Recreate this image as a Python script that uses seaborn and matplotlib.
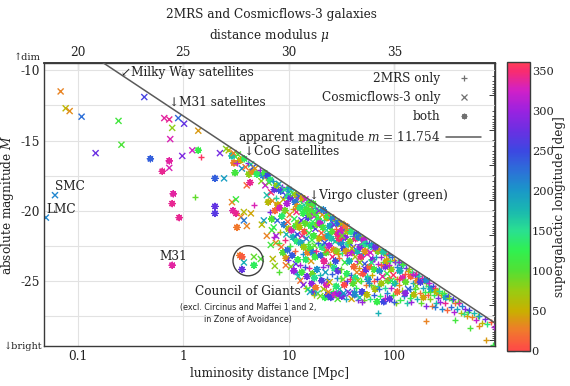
import numpy as np
import pandas as pd
import matplotlib
matplotlib.use("Agg")
import matplotlib.pyplot as plt
import matplotlib.ticker as mticker
from matplotlib.colors import LinearSegmentedColormap, Normalize
from matplotlib.lines import Line2D
import seaborn as sns

# ---------------------------------------------------------------------------
# Galaxy sample: luminosity distance [Mpc], absolute K magnitude,
# supergalactic longitude [deg] and catalogue membership code
# ('+' = 2MRS only, 'x' = Cosmicflows-3 only, 'b' = both)
# ---------------------------------------------------------------------------
dist_mpc = [
    # Local Group and nearby dwarfs
    0.069, 0.077, 0.084, 0.109, 0.061, 0.050, 0.428, 0.244, 0.662, 0.738,
    0.897, 1.02, 0.787, 1.39, 0.754, 0.26, 0.148, 0.489, 0.738, 0.98,
    1.22, 1.39, 1.48, 0.738, 0.634, 2.0, 2.44, 2.23, 0.805, 1.30,
    0.787, 2.0, 2.0, 0.917, 0.787,
    # Local Volume and Council of Giants
    2.55, 3.03, 3.37, 2.9, 3.16, 2.96, 3.16, 3.76, 3.53, 4.38,
    4.68, 5.81, 3.23, 3.76, 4.01, 5.56, 7.22, 6.92, 3.45, 3.6,
    3.76, 4.68, 5.44, 4.68, 3.6, 6.2, 6.76, 7.54, 7.06, 7.38,
    8.05, 9.38, 17.2, 26.6,
    # very luminous distant objects
    70.5, 200, 376, 521, 633, 738, 880, 860,
    # CoG satellites
    2.7, 2.9, 3.0, 3.2, 3.3, 3.5, 3.6, 3.8, 3.9, 4.1, 4.2, 4.4, 4.5, 4.6, 3.1, 4.0, 4.3,
    # bulk of the flux-limited sample
    4.8, 5.0, 5.3, 5.5, 5.7,
    5.9, 6.0, 6.1, 6.2, 6.3, 6.4, 6.5, 6.6, 6.7, 6.8, 6.9, 7.0, 7.1, 7.2, 7.3, 7.4,
    7.5, 7.6, 7.7, 7.8, 7.9, 8.0,
    8.1, 8.2, 8.3, 8.4, 8.5, 8.6, 8.7, 8.8, 8.9, 9.0, 9.1, 9.15, 9.25, 9.35, 9.45,
    9.5, 9.6, 9.7, 9.75, 9.8, 9.85, 9.9, 9.95,
    10.1, 10.2, 10.3, 10.4, 10.5, 10.6, 10.7, 10.8, 10.9, 11.0, 11.1, 11.2, 11.3, 11.4,
    11.5, 11.6, 11.7, 11.8, 11.85, 11.9, 12.0, 12.05, 12.1, 12.2, 12.25, 12.3, 12.35,
    12.5, 12.6, 12.7, 12.8, 12.9, 13.0, 13.1, 13.2, 13.3, 13.4, 13.5, 13.6, 13.7, 13.8,
    13.9, 14.0, 14.1, 14.2, 14.3, 14.4, 14.5, 14.6, 14.7, 14.8, 14.9, 15.0, 15.05, 15.1,
    15.2, 15.25, 15.3,
    15.5, 15.6, 15.7, 15.8, 15.9, 16.0, 16.1, 16.2, 16.3, 16.4, 16.5, 16.6, 16.7, 16.8,
    16.9, 17.0, 17.1, 17.2, 17.3, 17.4, 17.5, 17.6, 17.7, 17.8, 17.9, 18.0, 18.1, 18.2,
    18.4, 18.5, 18.6, 18.8, 18.9, 19.1,
    19.3, 19.5, 19.6, 19.8, 19.9, 20.1, 20.2, 20.4, 20.5, 20.7, 20.8, 21.0, 21.1, 21.3,
    21.4, 21.6, 21.7, 21.9, 22.0, 22.2, 22.3, 22.5, 22.6, 22.8, 22.9, 23.0, 23.1, 23.3,
    23.4, 23.5, 23.6, 23.7, 23.75,
    24.0, 24.2, 24.4, 24.6, 24.8, 25.0, 25.2, 25.4, 25.6, 25.8, 26.0, 26.2, 26.4, 26.6,
    26.8, 27.0, 27.2, 27.4, 27.6, 27.8, 28.0, 28.2, 28.4, 28.6, 28.8, 29.0, 29.1, 29.2,
    29.3, 29.4, 29.5, 29.55,
    29.8, 30.1, 30.4, 30.7, 31.0, 31.3, 31.6, 31.9, 32.2, 32.5, 32.8, 33.1, 33.4, 33.7,
    34.0, 34.3, 34.6, 34.9, 35.2, 35.5, 35.8, 36.1, 36.4, 36.6, 30.0, 31.5, 33.0, 34.5,
    35.9, 32.0,
    37.0, 37.4, 37.8, 38.2, 38.6, 39.0, 39.4, 39.8, 40.2, 40.6, 41.0, 41.4, 41.8, 42.2,
    42.6, 43.0, 43.4, 43.8, 44.2, 44.6, 45.0, 45.4, 38.0, 39.6, 41.2, 42.8, 44.0, 45.2,
    46.0, 46.5, 47.0, 47.5, 48.0, 48.5, 49.0, 49.5, 50.0, 50.5, 51.0, 51.5, 52.0, 52.5,
    53.0, 53.5, 54.0, 54.5, 55.0, 55.5, 56.0, 56.5, 47.2, 49.8, 52.8, 55.2,
    57.5, 58.2, 58.9, 59.6, 60.3, 61.0, 61.7, 62.4, 63.1, 63.8, 64.5, 65.2, 65.9, 66.6,
    67.3, 68.0, 68.7, 69.4, 70.0, 57.8, 60.8, 64.0, 66.2, 69.8,
    71.5, 72.5, 73.5, 74.5, 75.5, 76.5, 77.5, 78.5, 79.5, 80.5, 81.5, 82.5, 83.5, 84.5,
    85.5, 86.5, 87.3, 72.0, 75.0, 79.0, 82.0, 85.0,
    88.5, 89.5, 90.5, 91.5, 92.5, 93.5, 95.0, 96.5, 98.0, 99.5, 101, 102.5, 104, 105.5,
    107, 108.5, 90.0, 94.0, 100, 106,
    110, 111.5, 113, 114.5, 116, 118, 120, 122, 124, 126, 128, 130, 132, 134, 135.5,
    112, 119, 127,
    138, 140.5, 143, 145.5, 148, 150.5, 153, 155.5, 158, 160.5, 163, 165.5, 168, 142,
    152, 162,
    171, 174, 177, 180, 183, 186, 189, 192, 195, 198, 201, 204, 207, 209,
    213, 218, 223, 228, 233, 238, 243, 248, 253, 258, 216, 245,
    265, 272, 279, 286, 293, 300, 307, 314, 320, 283,
    330, 342, 354, 366, 378, 390, 400, 360,
    410, 425, 440, 455, 470, 485, 495,
    515, 540, 565, 590, 615,
    640, 680, 720, 760, 820,
]

abs_mag = [
    -11.5, -12.7, -12.9, -13.3, -18.9, -20.5, -11.9, -13.6, -13.4, -13.5,
    -13.4, -13.8, -14.1, -14.3, -14.9, -15.3, -15.9, -16.3, -16.45, -16.1,
    -15.7, -15.7, -16.2, -16.95, -17.2, -17.7, -17.7, -15.9, -18.8, -19.0,
    -19.5, -19.7, -20.2, -20.5, -23.9,
    -15.6, -16.6, -16.4, -19.4, -19.2, -20.0, -20.2, -20.1, -20.45, -20.2,
    -19.6, -20.7, -21.2, -20.7, -21.1, -21.0, -21.9, -21.4, -23.2, -23.3,
    -23.7, -23.3, -23.45, -23.9, -24.2, -21.8, -22.45, -22.3, -23.45, -23.95,
    -24.4, -23.9, -25.8, -26.0,
    -27.3, -27.9, -27.8, -28.4, -28.2, -29.2, -28.3, -29.6,
    -15.7, -16.1, -15.9, -16.6, -16.0, -16.4, -17.0, -16.3, -16.9, -16.6, -17.4, -16.7,
    -17.2, -16.9, -17.3, -18.2, -18.0,
    -17.0, -17.4, -17.1, -17.9, -17.5,
    -17.3, -18.2, -17.6, -18.9, -17.5, -19.4, -18.0, -20.1, -17.8, -18.7, -20.6, -19.3,
    -17.9, -21.2, -18.5, -20.0, -19.1, -21.8, -18.2, -20.7, -19.6, -22.3,
    -18.1, -19.8, -21.5, -18.6, -22.6, -20.4, -18.3, -23.0, -19.2, -21.0, -18.5, -22.1,
    -20.0, -18.9, -23.4, -21.7, -19.5, -18.4, -22.8, -20.8, -19.0, -23.5, -21.3,
    -18.5, -20.3, -22.5, -19.1, -24.0, -21.4, -18.7, -23.2, -19.9, -21.9, -18.8, -24.3,
    -20.6, -22.9, -19.4, -21.1, -23.8, -18.9, -20.1, -22.2, -24.5, -19.7, -21.7, -23.5,
    -19.0, -20.9, -24.7,
    -19.0, -21.2, -23.9, -19.8, -25.0, -22.3, -19.3, -20.7, -24.4, -21.8, -19.1, -23.1,
    -20.2, -25.3, -22.6, -19.6, -21.5, -24.0, -20.9, -19.2, -23.5, -25.5, -22.0, -19.9,
    -24.7, -21.0, -19.4, -23.0, -25.6, -20.5, -22.4,
    -19.5, -21.6, -24.1, -20.3, -25.8, -22.7, -19.4, -21.1, -23.6, -20.0, -25.2, -22.1,
    -19.7, -24.5, -20.8, -23.0, -19.5, -26.0, -21.8, -20.4, -24.8, -22.5, -19.8, -23.3,
    -21.3, -25.5, -20.2, -22.9, -19.9, -24.2, -21.0, -25.9, -22.3, -20.6,
    -20.0, -22.0, -24.6, -20.9, -26.1, -23.2, -19.9, -21.6, -25.0, -22.6, -20.3, -24.0,
    -21.2, -19.95, -25.6, -23.6, -20.7, -22.3, -26.2, -21.9, -24.4, -20.2, -23.0, -25.3,
    -21.4, -20.5, -24.9, -22.8, -26.0, -20.4, -23.9, -21.8, -25.8,
    -20.4, -22.5, -25.1, -21.1, -23.8, -26.2, -20.5, -22.0, -24.5, -21.5, -23.3, -20.6,
    -25.7, -22.8, -21.0, -24.1, -20.7, -26.0, -22.2, -23.6, -21.3, -25.4, -20.8, -22.9,
    -24.8, -21.7, -26.3, -20.9, -23.1, -24.3, -22.1, -25.9,
    -20.9, -23.4, -25.6, -21.6, -24.2, -22.3, -20.95, -26.1, -23.0, -21.3, -24.9, -22.7,
    -21.0, -25.3, -23.7, -21.9, -26.3, -22.9, -21.2, -24.5, -23.2, -21.5, -25.8, -22.4,
    -22.0, -24.8, -25.9, -21.1, -25.0, -21.8,
    -21.4, -23.6, -25.9, -22.2, -24.6, -21.5, -26.3, -23.0, -21.8, -25.2, -22.6, -24.0,
    -21.6, -26.0, -23.3, -22.0, -25.5, -21.7, -24.4, -22.9, -26.4, -21.9, -24.9, -22.7,
    -25.7, -24.8, -23.6, -25.0,
    -21.9, -24.1, -26.2, -22.6, -25.0, -23.3, -21.9, -25.8, -22.3, -24.5, -23.0, -22.1,
    -26.4, -23.8, -22.4, -25.3, -24.2, -22.3, -26.0, -23.1, -22.5, -24.9, -23.7, -26.5,
    -22.9, -24.7,
    -22.3, -24.0, -26.3, -23.0, -25.3, -22.5, -24.6, -23.5, -22.6, -26.0, -24.2, -22.8,
    -25.6, -23.3, -22.7, -24.9, -26.5, -23.8, -22.9, -25.2, -23.7, -25.0, -22.6, -25.4,
    -22.8, -24.3, -26.1, -23.3, -25.2, -22.9, -24.7, -23.7, -26.5, -23.0, -25.5, -24.0,
    -23.2, -25.9, -24.5, -23.1, -25.0, -25.6, -23.9, -22.95, -26.2, -23.6,
    -23.2, -24.8, -26.3, -23.6, -25.5, -24.2, -23.3, -26.0, -24.6, -23.5, -25.2, -23.7,
    -26.6, -24.0, -25.8, -23.7, -23.9, -25.0, -26.5, -24.9,
    -23.7, -25.3, -24.3, -26.4, -23.9, -25.7, -24.8, -23.9, -26.1, -24.5, -25.1, -24.1,
    -26.6, -24.3, -25.6, -24.9, -23.8, -25.9,
    -24.2, -25.6, -24.7, -26.5, -24.4, -25.2, -26.0, -24.6, -25.6, -24.5, -26.3, -25.0,
    -24.7, -26.2, -24.5, -25.4,
    -24.7, -25.9, -25.1, -26.6, -24.8, -25.5, -26.2, -24.9, -25.8, -26.8, -25.2, -25.0,
    -26.0, -25.4,
    -25.2, -26.3, -25.6, -26.8, -25.4, -26.0, -25.5, -26.6, -25.8, -26.2, -25.8, -26.9,
    -25.7, -26.5, -26.0, -27.0, -25.9, -26.6, -26.2, -27.1, -26.1, -25.9,
    -26.2, -26.9, -26.4, -27.2, -26.6, -27.0, -26.5, -26.3,
    -26.6, -27.3, -26.8, -27.4, -27.0, -27.5, -27.2,
    -27.1, -27.6, -27.3, -27.8, -27.5,
    -27.5, -28.0, -27.7, -28.1, -27.95,
]

sgl_deg = [
    30, 55, 35, 225, 210, 210, 255, 110, 335, 340,
    230, 270, 80, 40, 330, 105, 275, 235, 335, 285,
    325, 120, 355, 330, 340, 235, 195, 280, 335, 95,
    340, 270, 265, 340, 336,
    85, 30, 110, 30, 115, 335, 340, 60, 30, 45,
    330, 190, 25, 220, 30, 60, 320, 105, 25, 10,
    180, 95, 105, 130, 270, 30, 110, 35, 60, 80,
    100, 25, 270, 240,
    180, 30, 110, 105, 35, 40, 310, 120,
    60, 170, 30, 320, 100, 45, 200, 130, 20, 280, 80, 150, 35, 240, 110, 15, 340,
    40, 130, 300, 85, 210,
    115, 320, 25, 170, 250, 60, 95, 285, 140, 350, 105, 35, 200, 125, 270, 15,
    160, 305, 80, 230, 45, 110,
    185, 330, 70, 240, 20, 135, 290, 100, 55, 215, 150, 345, 90, 260, 40, 175,
    310, 120, 225, 10, 145, 280, 65,
    195, 30, 115, 275, 85, 330, 155, 240, 50, 180, 95, 300, 130, 15, 220, 105,
    265, 70, 345, 140, 200, 35, 250, 120, 315, 80, 165,
    230, 60, 310, 140, 20, 185, 95, 270, 110, 340, 45, 205, 125, 290, 75, 160,
    5, 245, 100, 325, 135, 55, 215, 110, 280, 90, 175, 30, 120, 260, 105,
    100, 115, 335, 95, 190, 110, 250, 125, 40, 105, 295, 120, 15, 90, 130, 220,
    108, 60, 112, 315, 150, 98, 180, 118, 270, 25, 102, 345, 135, 205, 92, 160,
    240, 122,
    285, 55, 175, 320, 85, 230, 130, 10, 265, 145, 40, 300, 110, 210, 70, 340,
    160, 245, 125, 20, 190, 275, 95, 330, 150, 60, 220, 5, 255, 115, 295, 180, 35,
    140, 310, 50, 195, 85, 260, 15, 165, 235, 100, 350, 205, 120, 30, 280, 155,
    65, 325, 175, 245, 10, 135, 290, 80, 215, 345, 105, 185, 45, 270, 125, 300,
    230, 20, 160, 315, 95, 205, 55, 280, 140, 335, 75, 250, 170, 0, 115, 290,
    185, 40, 220, 130, 305, 65, 240, 150, 350, 110, 200, 25, 270, 90,
    10, 180, 300, 85, 235, 140, 45, 320, 195, 100, 265, 15, 160, 215, 70, 340,
    125, 250, 30, 175, 285, 105, 355, 60, 205, 145, 310, 80,
    220, 40, 165, 290, 110, 345, 75, 255, 130, 5, 195, 315, 90, 240, 150, 25,
    275, 185, 60, 330, 120, 210, 80, 300, 35, 160,
    265, 15, 140, 325, 95, 200, 50, 290, 170, 235, 110, 355, 65, 185, 30, 250,
    120, 310, 85, 215, 145, 5, 275, 160,
    40, 205, 130, 300, 70, 180, 335, 100, 250, 20, 155, 285, 60, 210, 120, 345,
    90, 225, 10, 165, 315, 45,
    195, 25, 270, 140, 310, 75, 230, 110, 355, 50, 175, 290, 85, 215, 15, 160,
    320, 130, 240, 60,
    300, 35, 185, 120, 255, 70, 330, 150, 210, 5, 95, 275, 165, 45, 235, 350, 105, 290,
    80, 225, 15, 300, 140, 195, 60, 270, 110, 345, 175, 30, 245, 125, 320, 90,
    155, 20, 260, 95, 335, 185, 45, 230, 120, 290, 70, 205, 10, 140,
    315, 80, 195, 25, 250, 130, 350, 170, 60, 285, 105, 220,
    150, 300, 40, 210, 95, 340, 180, 15, 260, 120,
    75, 230, 135, 310, 20, 190, 100, 265,
    330, 65, 210, 150, 290, 40, 120,
    250, 30, 175, 320, 85,
    200, 55, 280, 140, 10,
]

catalog_codes = (
    "xxxxxxxxxx" "xxxxxxxbbx" "xb+xbbxxb+" "bbbbb"
    "xbxxxbbxxx" "+xbxxx+xbb" "xxxbbxxxxx" "+xbb"
    "++++++++"
    "xbx+xbxbx+bxbxbxb"
    "xb+xb"
    "bx+xbbx+bxbx+xbb+xbxb+"
    "xb+bxb+bxbx+bxbxb+bxb+b"
    "bx+bxbxb+bxbx+bbxbxb+bxb+bx"
    "xb+bxb+xbx" "b+bxbxb+bx" "b+xbbx+bxb+"
    "bx+bxb+bxb" "bx+bxbb+bx" "bx+bxbb+xb" "bx+b"
    "xb+bxb+xbb" "x+bbxb+xbb" "x+bbxb+xbb" "+bx"
    "+bxb+bxb+b" "xb+bxb+bxb" "+bxb+bxb+b" "xb"
    "b+xb+bxb+b" "xb+bxb+bxb" "+bxbb+xb+x"
    "+bxb+bxb+b" "xb+bxb+bxb" "+b+x+b+x"
    "b+xb+b+bxb" "+b+xb+b+bx" "+bx+b+"
    "+b+x+b+bx+" "b+b+x+b+b+" "x+b+"
    "+b++b+x+b+" "+b++x+b++b" "+b"
    "++b++b++x+" "b+++b++x++"
    "++b+++b+++" "b+++x++b"
    "++b+++b+++" "+b+++x"
    "++b+++b++++b++"
    "++b+++++b+++"
    "++++++b+++"
    "++++++++"
    "+++++++"
    "+++++"
    "+++++"
)

catalog_names = {"+": "2MRS only", "x": "Cosmicflows-3 only", "b": "both"}

# apparent-magnitude limit of the 2MRS selection (K band)
M_LIMIT = 11.754

# ---------------------------------------------------------------------------
sns.set_theme(style="white")
plt.rcParams["font.family"] = ["DejaVu Serif", "DejaVu Sans"]
plt.rcParams["mathtext.fontset"] = "dejavuserif"
plt.rcParams["axes.unicode_minus"] = False
plt.rcParams["font.size"] = 8.7

FS = 8.7
TXT = "#222222"

df = pd.DataFrame({
    "dist": dist_mpc,
    "absmag": abs_mag,
    "sgl": sgl_deg,
    "catalog": [catalog_names[c] for c in catalog_codes],
})

sgl_cmap = LinearSegmentedColormap.from_list("sgl", [
    (0 / 360, "#ff4848"), (25 / 360, "#f07a2c"), (50 / 360, "#c8b000"),
    (75 / 360, "#98cc12"), (100 / 360, "#52e034"), (125 / 360, "#30f050"),
    (150 / 360, "#2ae090"), (175 / 360, "#1ab8b0"), (200 / 360, "#1a98c8"),
    (225 / 360, "#2c70d8"), (250 / 360, "#3c48e2"), (275 / 360, "#6a30e2"),
    (300 / 360, "#9a22e0"), (325 / 360, "#d020c8"), (350 / 360, "#f82c70"),
    (360 / 360, "#ff3c58"),
])
sgl_norm = Normalize(0, 360)

INK = "#3a3a3a"
GRID = "#e2e2e2"

fig = plt.figure(figsize=(5.7, 3.86), dpi=100)
ax = fig.add_axes([0.0772, 0.1036, 0.7912, 0.7332])
cax = fig.add_axes([0.8895, 0.0907, 0.0404, 0.7474])

ax.set_xscale("log")

# flux limit m = M + 5 log10(d / 10 pc)
d_line = np.geomspace(0.03, 2000, 300)
ax.plot(d_line, M_LIMIT - 5 * np.log10(d_line) - 25, color="#5a5a5a", lw=1.1, zorder=3)

sns.scatterplot(
    data=df, x="dist", y="absmag", hue="sgl", palette=sgl_cmap, hue_norm=sgl_norm,
    style="catalog",
    markers={"2MRS only": "+", "Cosmicflows-3 only": "x", "both": (8, 2, 0)},
    s=19, linewidth=1.0, legend=False, ax=ax, zorder=2,
)
ax.set_xlim(0.048, 900)
ax.set_ylim(-29.66, -9.47)   # bright at the bottom, dim at the top

# ring around the Council of Giants members
cog = df.iloc[53:60]
cog_x = 10 ** np.log10(cog["dist"]).mean()
cog_y = cog["absmag"].mean()
ax.scatter([cog_x], [cog_y], s=470, facecolors="none", edgecolors="#404040",
           linewidths=1.0, zorder=4)

# axes styling
ax.xaxis.set_major_locator(mticker.LogLocator(base=10))
ax.xaxis.set_minor_locator(mticker.LogLocator(base=10, subs=np.arange(2, 10)))
ax.xaxis.set_major_formatter(mticker.FuncFormatter(lambda v, p: f"{v:g}"))
ax.xaxis.set_minor_formatter(mticker.NullFormatter())
ax.yaxis.set_major_locator(mticker.MultipleLocator(5))
ax.yaxis.set_minor_locator(mticker.MultipleLocator(2.5))
ax.yaxis.set_major_formatter(mticker.FuncFormatter(lambda v, p: f"{v:.0f}"))
ax.grid(which="major", axis="x", color=GRID, lw=0.8, zorder=0)
ax.grid(which="both", axis="y", color=GRID, lw=0.8, zorder=0)
ax.set_axisbelow(True)
for sp in ax.spines.values():
    sp.set_color(INK)
    sp.set_linewidth(1.0)
ax.tick_params(which="both", direction="in", color=INK, labelcolor=TXT,
               top=False, right=False, labelsize=FS, pad=3)
ax.tick_params(which="major", length=4.5, width=0.8)
ax.tick_params(which="minor", length=2.5, width=0.7)
ax.set_xlabel("luminosity distance [Mpc]", fontsize=FS, labelpad=3, color=TXT)
ax.set_ylabel("absolute magnitude $M$", fontsize=FS, labelpad=3, color=TXT)

# distance modulus on top
def to_mu(d):
    return 5 * np.log10(np.clip(d, 1e-12, None)) + 25

def from_mu(mu):
    return 10 ** ((np.asarray(mu) - 25) / 5)

top = ax.secondary_xaxis("top", functions=(to_mu, from_mu))
top.set_xticks([20, 25, 30, 35])
top.xaxis.set_minor_locator(mticker.NullLocator())
top.xaxis.set_major_formatter(mticker.FuncFormatter(lambda v, p: f"{v:g}"))
top.tick_params(direction="in", length=5, width=0.8, color=INK, labelsize=FS, pad=3,
                labelcolor=TXT)
top.set_xlabel(r"distance modulus $\mu$", fontsize=FS, labelpad=5, color=TXT)

# luminosity-like log ticks on the right spine
dec = [3.28 - 2.5 * k for k in range(4, 15)]
lo, hi = -29.66, -9.47
major_r = [m for m in dec if lo <= m <= hi]
minor_r = [m - 2.5 * np.log10(j) for m in dec for j in range(2, 10)]
minor_r = [m for m in minor_r if lo <= m <= hi]
right = ax.secondary_yaxis("right")
right.set_yticks(major_r)
right.set_yticks(minor_r, minor=True)
right.yaxis.set_major_formatter(mticker.NullFormatter())
right.yaxis.set_minor_formatter(mticker.NullFormatter())
right.tick_params(which="both", direction="in", color=INK)
right.tick_params(which="major", length=4, width=0.7)
right.tick_params(which="minor", length=2, width=0.6)
right.spines["right"].set_color(INK)

ax.text(-0.008, 1.02, "↑dim", transform=ax.transAxes, ha="right", va="center",
        fontsize=7, color=TXT)
ax.text(-0.004, 0.0, "↓bright", transform=ax.transAxes, ha="right", va="center",
        fontsize=7, color=TXT)

fig.text(0.477, 0.962, "2MRS and Cosmicflows-3 galaxies", ha="center", va="center",
         fontsize=FS, color=TXT)

# annotations
ann = dict(fontsize=FS, color=TXT, va="center", ha="left", zorder=5)
ax.text(0.26, -10.16, "↙Milky Way satellites", **ann)
ax.text(0.738, -12.3, "↓M31 satellites", **ann)
ax.text(3.76, -15.8, "↓CoG satellites", **ann)
ax.text(15.5, -18.9, "↓Virgo cluster (green)", **ann)
ax.text(0.061, -18.25, "SMC", **ann)
ax.text(0.0505, -19.9, "LMC", **ann)
ax.text(0.594, -23.3, "M31", **ann)
ax.text(cog_x, -25.8, "Council of Giants", fontsize=FS, color=TXT,
        ha="center", va="center", zorder=5)
ax.text(cog_x, -27.35, "(excl. Circinus and Maffei 1 and 2,\nin Zone of Avoidance)",
        fontsize=5.8, family=["DejaVu Sans"], color=TXT, ha="center", va="center",
        linespacing=1.5, zorder=5)

# legend
kw = dict(ls="none", color="#707070", ms=4, mew=0.9)
handles = [
    Line2D([], [], marker="+", label="2MRS only", **kw),
    Line2D([], [], marker="x", label="Cosmicflows-3 only", **kw),
    Line2D([], [], marker=(8, 2, 0), label="both", **kw),
    Line2D([], [], color="#5a5a5a", lw=1.1, label=f"apparent magnitude $m$ = {M_LIMIT}"),
]
ax.legend(handles=handles, loc="upper right", bbox_to_anchor=(0.97, 0.968),
          markerfirst=False, frameon=False, fontsize=FS, handlelength=2.9,
          handletextpad=0.5, labelspacing=0.5, borderpad=0, borderaxespad=0)

# colour bar
sm = plt.cm.ScalarMappable(norm=sgl_norm, cmap=sgl_cmap)
cb = fig.colorbar(sm, cax=cax)
cb.set_ticks(np.arange(0, 351, 50))
cb.ax.tick_params(direction="in", length=6, width=0.9, color=INK, left=True, right=True,
                  labelsize=8.2, pad=1.2, labelcolor=TXT)
cb.ax.minorticks_off()
cb.outline.set_edgecolor(INK)
cb.outline.set_linewidth(1.0)
cb.set_label("supergalactic longitude [deg]", fontsize=FS, labelpad=0, color=TXT)

fig.savefig("out.png", dpi=100)
